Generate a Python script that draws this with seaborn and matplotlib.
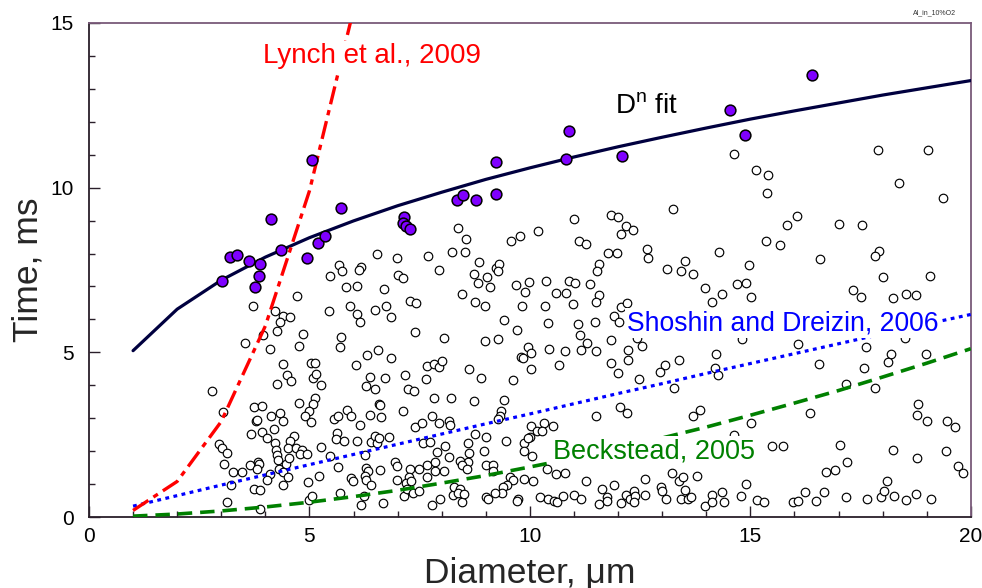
import matplotlib
matplotlib.use("Agg")
import matplotlib.pyplot as plt
from matplotlib.ticker import MultipleLocator
import seaborn as sns
import pandas as pd

# ---- burn-time measurements (open circles) ----
open_x = [
    6.54, 6.99, 7.69, 8.24, 5.68, 5.75, 6.18, 6.13, 5.46, 7.02, 7.13, 7.94, 5.83, 6.09, 6.68,
    4.71, 3.73, 5.44, 5.93, 6.09, 6.14, 6.49, 6.73, 6.86, 7.29, 7.42, 4.23, 4.41, 4.57, 4.33,
    8.36, 8.56, 8.53, 8.85, 8.73, 9.02, 8.82, 9.09, 8.47, 8.75, 8.99, 9.42, 9.24, 9.29, 9.27,
    9.57, 9.77, 10.18, 9.69, 9.97, 9.90, 10.36, 9.83, 10.34, 10.59, 10.82, 10.89, 11.02, 10.98,
    10.40, 11.10, 11.36, 11.57, 11.53, 11.57, 11.50, 11.47, 10.99, 11.11, 11.28, 11.77, 11.98,
    11.84, 11.99, 12.17, 12.34, 12.06, 12.66, 12.68, 13.24, 13.12, 13.42, 13.51, 13.70, 13.98,
    14.12, 11.90, 12.07, 12.20, 12.03,
    14.64, 15.12, 15.39, 15.37, 16.05, 15.83, 15.36, 15.68, 14.29, 14.97, 14.70, 14.91, 14.35,
    15.02, 16.57, 17.01, 17.53, 17.90, 19.04, 18.37, 19.36, 17.92, 17.82, 18.00, 19.08, 17.32,
    17.52, 18.24, 18.53, 18.75,
    3.55, 3.95, 4.27, 4.11, 4.86, 4.76, 5.71, 5.70, 7.39, 8.06, 4.39, 4.49, 4.59, 4.27, 5.04,
    5.13, 5.07, 5.16, 5.26, 6.06, 6.31, 6.55, 6.86, 6.38, 6.29, 6.48, 6.72, 7.16, 7.24, 7.38,
    7.66, 7.83, 7.94, 8.01, 7.65, 2.80, 3.05, 3.75, 3.92, 4.12, 4.33, 4.40, 3.78, 3.82, 4.20,
    4.77, 5.13, 5.07, 4.99, 4.90, 5.03, 5.56, 5.65, 5.86, 5.94, 6.37, 6.57, 6.61, 6.63, 6.15,
    7.13, 7.83, 8.21, 7.39, 7.55, 7.79, 7.93, 8.16, 8.18, 3.68, 3.92, 4.04, 4.64, 4.56, 4.23,
    4.25, 4.26, 4.51, 4.70, 4.83, 4.78, 4.95, 5.26, 5.63, 5.60, 5.78, 6.09, 6.40, 6.49, 6.53,
    6.58, 6.80, 7.58, 7.73, 8.07, 7.89, 8.17, 2.96, 3.01, 3.14, 3.07, 3.26, 3.46, 3.66, 3.83,
    3.86, 3.80, 4.10, 4.29, 4.32, 4.46, 4.54, 4.40, 4.52, 5.47, 5.64, 6.27, 6.28, 6.33, 6.60,
    6.95, 6.98, 7.28, 7.48, 7.67, 7.85, 7.85, 8.06, 7.25, 7.20, 7.30, 6.98, 7.67, 4.04, 4.41,
    4.97, 5.22, 5.95, 5.99, 6.26, 6.28, 6.40, 3.21, 3.74, 3.89, 3.14, 3.88, 5.00, 5.06, 5.69,
    6.18, 6.24, 6.66, 7.15, 7.22, 7.34, 7.49, 7.78, 7.97, 8.25, 8.29,
    9.70, 8.99, 9.27, 9.95, 10.03, 9.79, 9.85, 10.02, 10.43, 10.66, 10.79, 11.14, 11.29, 11.15,
    11.50, 11.85, 12.22, 12.23, 12.54, 13.39, 13.06, 12.96, 13.26, 12.48, 12.00, 11.83, 8.61,
    8.88, 9.61, 8.73, 9.42, 9.35, 9.32, 9.28, 12.05, 12.21, 11.50, 13.71, 13.85, 8.75, 9.00,
    8.59, 9.46, 10.03, 10.16, 10.01, 10.31, 10.52, 10.28, 9.87, 9.96, 8.95, 8.61, 8.60, 8.41,
    8.47, 8.58, 9.01, 9.17, 9.17, 9.87, 10.04, 10.38, 10.59, 10.79, 8.42, 8.36, 8.47, 8.51,
    9.55, 9.62, 9.49, 9.40, 9.37, 9.21, 9.00, 9.05, 9.74, 9.70, 9.86, 10.06, 10.22, 10.42,
    10.54, 10.61, 10.76, 11.00, 11.16, 11.27, 11.63, 11.56, 11.76, 11.74, 11.91, 12.06, 12.17,
    12.27, 12.35, 12.39, 12.37, 12.61, 12.62, 12.97, 12.99, 13.08, 13.22, 13.39, 13.48, 13.51,
    13.42, 13.58, 13.65, 13.79, 13.97, 14.12, 14.13, 12.42,
    14.80, 14.23, 14.20, 14.27, 16.09, 16.56, 17.63, 17.57, 18.18, 18.12, 18.51, 18.99, 17.16,
    17.83, 16.36, 15.02, 14.63, 18.81, 18.77, 19.00, 19.45, 19.65, 15.74, 15.48, 17.04, 17.20,
    16.91, 16.71, 18.23, 18.78, 19.43, 19.72, 19.83, 14.91, 14.79, 14.36, 14.40, 15.16, 15.30,
    15.97, 16.07, 16.25, 16.50, 16.67, 17.18, 17.65, 17.96, 18.04, 18.10, 18.25, 18.53, 18.75,
    19.10,
]
open_y = [
    7.99, 7.86, 7.93, 8.05, 7.65, 7.47, 7.59, 7.51, 7.33, 7.35, 7.27, 7.51, 6.99, 7.02, 6.92,
    6.70, 6.40, 6.24, 6.41, 6.17, 5.91, 6.30, 6.41, 6.08, 6.56, 6.51, 6.24, 6.11, 6.08, 5.93,
    8.77, 8.43, 8.05, 7.73, 7.39, 7.29, 7.10, 6.98, 6.76, 6.53, 6.40, 5.99, 7.57, 7.69, 7.47,
    8.37, 8.54, 8.68, 7.05, 7.13, 6.84, 7.16, 6.40, 6.40, 6.80, 6.79, 7.16, 7.10, 6.48,
    5.88, 5.86, 7.06, 7.69, 7.47, 6.74, 6.53, 5.92, 9.06, 8.37, 8.28, 8.01, 8.03,
    9.18, 9.10, 8.82, 8.71, 8.59, 8.13, 7.86, 9.36, 7.54, 7.47, 7.76, 7.37, 6.96,
    6.53, 6.10, 6.38, 6.50, 5.93,
    11.01, 10.53, 10.38, 9.83, 9.15, 8.86, 8.38, 8.25, 8.06, 7.66, 7.07, 7.10, 6.78,
    6.68, 7.83, 8.91, 8.88, 11.13, 11.13, 10.13, 9.68, 8.09, 7.93, 7.30, 7.33, 6.90,
    6.69, 6.64, 6.77, 6.75,
    5.28, 5.52, 5.65, 5.09, 5.56, 5.18, 5.47, 5.16, 5.62, 5.44, 4.64, 4.30, 4.12, 4.05, 4.68,
    4.68, 4.21, 4.34, 4.02, 4.61, 4.92, 5.08, 4.83, 4.25, 3.98, 3.88, 4.21, 4.30, 3.90, 3.84,
    4.58, 4.64, 4.55, 4.75, 4.19, 3.83, 3.18, 3.33, 3.37, 3.06, 3.15, 2.91, 2.91, 2.94, 2.68,
    3.46, 3.60, 3.43, 3.21, 3.06, 2.90, 2.99, 3.06, 3.24, 3.08, 3.11, 3.42, 3.40, 3.04, 2.78,
    3.22, 3.61, 3.62, 2.73, 2.86, 3.07, 2.86, 2.92, 2.79, 2.51, 2.58, 2.39, 2.47, 2.32, 2.24,
    2.04, 1.88, 2.10, 2.10, 2.05, 1.91, 1.90, 2.13, 2.54, 2.38, 2.31, 2.31, 2.28, 2.46, 2.24,
    2.41, 2.43, 2.25, 2.28, 2.16, 1.96, 1.81, 2.22, 2.11, 1.94, 1.62, 1.38, 1.36, 1.58, 1.68,
    1.60, 1.45, 1.31, 1.72, 1.46, 1.62, 1.78, 1.37, 1.22, 1.85, 1.52, 1.88, 1.49, 1.40, 1.43,
    1.67, 1.54, 1.45, 1.45, 1.58, 1.67, 1.40, 1.39, 1.21, 1.03, 1.09, 1.12, 1.21, 1.12, 0.98,
    1.07, 1.24, 1.17, 1.10, 1.25, 1.12, 0.98, 0.98, 0.84, 0.83, 0.47, 0.25, 0.51, 0.63, 0.73,
    0.36, 0.63, 0.42, 0.65, 0.86, 0.72, 0.79, 0.36, 0.54, 0.68, 0.91,
    5.67, 5.34, 5.39, 5.15, 4.99, 4.85, 4.83, 4.50, 5.09, 4.61, 5.04, 5.52, 5.29, 5.08,
    5.04, 5.37, 5.07, 4.78, 5.20, 4.78, 4.61, 4.40, 3.91, 4.19, 4.37, 4.68, 4.48,
    4.21, 4.15, 3.53, 3.54, 3.21, 3.07, 2.99, 3.35, 3.17, 3.08, 3.07, 3.24, 2.52, 2.44,
    2.26, 2.31, 2.76, 2.61, 2.44, 2.85, 2.77, 2.61, 2.26, 2.39, 2.01, 1.94, 1.67, 1.71,
    1.58, 1.45, 1.59, 1.57, 1.41, 2.01, 1.86, 1.45, 1.31, 1.33, 0.84, 0.74, 0.47, 0.71,
    1.22, 1.13, 0.96, 0.90, 0.73, 0.74, 0.61, 0.54, 0.56, 0.48, 1.14, 1.08, 0.62, 0.56,
    0.48, 0.46, 0.63, 0.66, 0.54, 1.08, 0.84, 0.40, 0.60, 0.49, 0.96, 0.44, 0.66,
    0.56, 0.79, 0.63, 0.46, 1.15, 0.68, 0.90, 0.79, 0.54, 1.34, 1.08, 1.22, 0.83,
    0.55, 0.56, 0.60, 1.24, 0.33, 0.68, 0.46, 5.42,
    5.39, 4.95, 4.51, 4.31, 5.25, 4.65, 5.15, 4.53, 4.96, 4.70, 5.42, 4.94, 4.03,
    3.91, 3.15, 2.85, 2.48, 3.42, 3.09, 2.91, 2.92, 2.73, 2.16, 2.16, 2.18, 1.68,
    1.42, 1.37, 2.05, 1.80, 2.01, 1.55, 1.33, 0.99, 0.64, 0.76, 0.46, 0.52, 0.46,
    0.46, 0.49, 0.76, 0.49, 0.76, 0.61, 0.55, 0.62, 0.79, 1.08, 0.64, 0.53, 0.69,
    0.54,
]

# ---- points used for the D^n fit (filled violet) ----
fit_pts_x = [3.02, 3.20, 3.35, 3.63, 3.88, 3.86, 3.77, 4.12, 4.35, 4.95, 5.06, 5.20, 5.36, 5.71,
             7.14, 7.13, 7.19, 7.28, 8.35, 8.49, 8.78, 9.24, 9.24, 10.82, 10.88, 12.09,
             14.54, 14.88, 16.39]
fit_pts_y = [7.17, 7.88, 7.96, 7.77, 7.69, 7.33, 6.99, 9.04, 8.10, 7.87, 10.85, 8.32, 8.54, 9.38,
             9.12, 8.94, 8.84, 8.74, 9.62, 9.77, 9.63, 10.77, 9.82, 10.87, 11.72, 10.95,
             12.37, 11.60, 13.43]

# ---- model curves, tabulated at integer diameters ----
diam = list(range(1, 21))
dn_fit = [5.05, 6.31, 7.19, 7.89, 8.48, 8.99, 9.45, 9.86, 10.25, 10.60,
          10.93, 11.24, 11.53, 11.81, 12.08, 12.33, 12.57, 12.81, 13.03, 13.25]
shoshin = [0.33, 0.65, 0.97, 1.28, 1.59, 1.90, 2.21, 2.52, 2.83, 3.13,
           3.44, 3.75, 4.05, 4.36, 4.66, 4.96, 5.26, 5.56, 5.86, 6.15]
beckstead = [0.027, 0.091, 0.185, 0.305, 0.45, 0.62, 0.81, 1.03, 1.26, 1.52,
             1.79, 2.09, 2.40, 2.73, 3.09, 3.46, 3.84, 4.25, 4.67, 5.11]
lynch_d = [1, 2, 3, 4, 5, 6]
lynch = [0.2, 1.08, 2.9, 5.8, 9.9, 15.4]

sns.set_style("white")
plt.rcParams["font.family"] = ["Liberation Sans", "DejaVu Sans"]
plt.rcParams["mathtext.fontset"] = "custom"
plt.rcParams["mathtext.rm"] = "Liberation Sans"

fig = plt.figure(figsize=(9.82, 5.88), dpi=100)
ax = fig.add_axes([0.0906, 0.1207, 0.898, 0.8403])

meas = pd.DataFrame({"d": open_x, "t": open_y})
fitp = pd.DataFrame({"d": fit_pts_x, "t": fit_pts_y})
curves = pd.DataFrame({"d": diam, "fit": dn_fit, "sd": shoshin, "bk": beckstead})
lyn = pd.DataFrame({"d": lynch_d, "t": lynch})

sns.scatterplot(data=meas, x="d", y="t", ax=ax, s=38, color="white",
                edgecolor="black", linewidth=0.85, zorder=2, legend=False)

sns.lineplot(data=curves, x="d", y="fit", ax=ax, color="#00003f", lw=2.3,
             sort=False, estimator=None, zorder=3)
sns.lineplot(data=curves, x="d", y="sd", ax=ax, color="#0000ff", lw=2.3,
             linestyle=(0, (1.2, 1.4)), sort=False, estimator=None, zorder=3)
sns.lineplot(data=curves, x="d", y="bk", ax=ax, color="#008000", lw=2.6,
             linestyle=(0, (4.0, 2.2)), sort=False, estimator=None, zorder=3)
sns.lineplot(data=lyn, x="d", y="t", ax=ax, color="#ff0000", lw=2.4,
             linestyle=(0, (5.5, 1.8, 1.6, 1.8)), sort=False, estimator=None, zorder=3)

sns.scatterplot(data=fitp, x="d", y="t", ax=ax, s=60, color="#7f00ff",
                edgecolor="black", linewidth=1.1, zorder=4, legend=False)

ax.set_xlim(0, 20)
ax.set_ylim(0, 15)
ax.xaxis.set_major_locator(MultipleLocator(5))
ax.xaxis.set_minor_locator(MultipleLocator(1))
ax.yaxis.set_major_locator(MultipleLocator(5))
ax.yaxis.set_minor_locator(MultipleLocator(1))
ax.tick_params(which="both", direction="in", top=False, right=False,
               bottom=True, left=True, width=1.0, color="#2a1f2a")
ax.tick_params(which="major", length=8, labelsize=15, pad=7, labelcolor="black")
ax.tick_params(which="minor", length=4)
ax.tick_params(axis="y", which="major", pad=11)

for side in ("left", "bottom"):
    ax.spines[side].set_color("#2a1f2a")
    ax.spines[side].set_linewidth(1.3)
for side in ("top", "right"):
    ax.spines[side].set_color("#7a5a7a")
    ax.spines[side].set_linewidth(1.3)
    ax.spines[side].set_visible(True)

ax.set_xlabel("Diameter, \u03bcm", fontsize=25.5, labelpad=8)
ax.set_ylabel("Time, ms", fontsize=25.5, labelpad=4)

box = dict(facecolor="white", edgecolor="none", pad=1.5)
ax.text(3.95, 14.0, "Lynch et al., 2009", color="#ff0000", fontsize=20,
        ha="left", va="center", zorder=5, bbox=box)
ax.text(11.93, 12.45, r"D$^{\mathregular{n}}$ fit", color="black", fontsize=20,
        ha="left", va="center", zorder=5)
ax.text(12.2, 5.89, "Shoshin and Dreizin, 2006", color="#0000ff", fontsize=19.1,
        ha="left", va="center", zorder=5, bbox=box)
ax.text(10.52, 2.0, "Beckstead, 2005", color="#008000", fontsize=19.5,
        ha="left", va="center", zorder=5, bbox=box)

fig.text(0.952, 0.978, "Al_in_10%O2", fontsize=5, ha="center", va="center",
         color="#333333")

fig.savefig("out.png", dpi=100)
